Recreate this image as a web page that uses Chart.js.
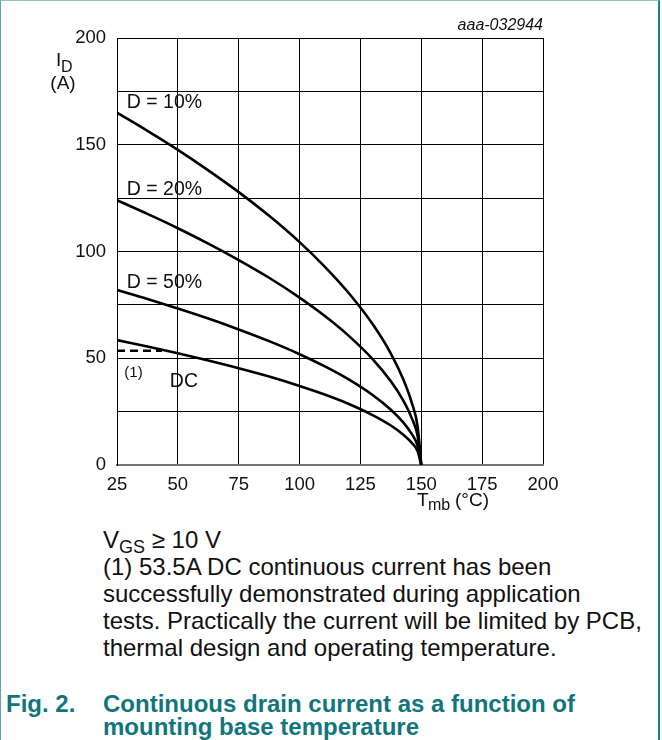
<!DOCTYPE html>
<html lang="en">
  <head>
    <meta charset="UTF-8" />
    <title>Continuous drain current vs mounting base temperature</title>
    <style>
      html, body {
        margin: 0;
        padding: 0;
        background: #fff;
        font-family: 'Liberation Sans', Arial, sans-serif;
      }
      .frame {
        position: absolute;
        left: 0;
        top: 0;
        width: 657px;
        height: 800px;
        border-left: 1px solid #5aa7ab;
        border-top: 1px solid #8cc3c6;
        border-right: 2px solid #1f7f84;
      }
      #chart {
        position: absolute;
        left: 0;
        top: 0;
      }
      .notes {
        position: absolute;
        left: 103px;
        top: 526px;
        font-size: 24px;
        line-height: 27px;
        color: #111;
        white-space: nowrap;
      }
      .notes sub {
        font-size: 18px;
        vertical-align: -5px;
        line-height: 0;
      }
      .caption {
        position: absolute;
        top: 692px;
        left: 6px;
        width: 640px;
        font-size: 24px;
        line-height: 23px;
        font-weight: bold;
        color: #11767c;
        white-space: nowrap;
      }
      .caption .num {
        position: absolute;
        left: 0;
        top: 0;
      }
      .caption .txt {
        position: absolute;
        left: 97px;
        top: 0;
      }
    </style>
  </head>
  <body>
    <div class="frame"></div>
    <canvas id="chart" width="662" height="520"></canvas>
    <div class="notes">
      V<sub>GS</sub> ≥ 10 V<br />
      (1) 53.5A DC continuous current has been<br />
      successfully demonstrated during application<br />
      tests. Practically the current will be limited by PCB,<br />
      thermal design and operating temperature.
    </div>
    <div class="caption">
      <span class="num">Fig. 2.</span>
      <span class="txt">Continuous drain current as a function of<br />mounting base temperature</span>
    </div>

    <script src="https://cdn.jsdelivr.net/npm/chart.js"></script>

    <script>
      // temperature points (°C)
      const tmb = [25, 37.5, 50, 62.5, 75, 87.5, 100, 110, 120, 130, 137.5, 142.5, 146, 148.5, 150];
      const d10 = [165, 156.5, 147.6, 138, 127.8, 116.7, 104.4, 93.3, 80.8, 66, 52.2, 40.4, 29.5, 18, 0];
      const d20 = [124, 117.6, 110.9, 103.7, 96, 87.7, 78.4, 70.1, 60.7, 49.6, 39.2, 30.4, 22.2, 13.6, 0];
      const d50 = [82, 77.8, 73.3, 68.6, 63.5, 58, 51.9, 46.4, 40.2, 32.8, 25.9, 20.1, 14.7, 9, 0];
      const dc = [58.5, 55.5, 52.3, 48.9, 45.3, 41.4, 37, 33.1, 28.7, 23.4, 18.5, 14.3, 10.5, 6.4, 0];
      const limitT = [25, 43.5];
      const limitI = [53.5, 53.5];
      const xTicks = [25, 50, 75, 100, 125, 150, 175, 200];
      const yGrid = [0, 25, 50, 75, 100, 125, 150, 175, 200];
      const yTicks = [0, 50, 100, 150, 200];

      const curveLabels = [
        { text: 'D = 10%', t: 29, i: 169.5 },
        { text: 'D = 20%', t: 29, i: 129 },
        { text: 'D = 50%', t: 29, i: 85.5 },
        { text: 'DC', t: 52.5, i: 39 },
      ];

      const FONT = '"Liberation Sans", Arial, sans-serif';

      function pts(xs, ys) {
        return xs.map((x, k) => ({ x, y: ys[k] }));
      }

      function curve(data) {
        return {
          data,
          borderColor: '#000',
          borderWidth: 2.6,
          pointRadius: 0,
          fill: false,
          cubicInterpolationMode: 'monotone',
        };
      }

      const textPlugin = {
        id: 'texts',
        afterDatasetsDraw(chart) {
          const { ctx, scales } = chart;
          const x = scales.x;
          const y = scales.y;
          ctx.save();
          ctx.fillStyle = '#111';
          ctx.textBaseline = 'middle';
          ctx.font = '19.5px ' + FONT;
          curveLabels.forEach((l) => {
            ctx.textAlign = l.text === 'DC' ? 'center' : 'left';
            ctx.fillText(l.text, x.getPixelForValue(l.t), y.getPixelForValue(l.i));
          });
          ctx.font = '15px ' + FONT;
          ctx.textAlign = 'left';
          ctx.fillText('(1)', x.getPixelForValue(28), y.getPixelForValue(43));

          // axis titles
          ctx.font = '19px ' + FONT;
          ctx.fillText('I', 56, 61);
          ctx.font = '16px ' + FONT;
          ctx.fillText('D', 61, 68);
          ctx.font = '19px ' + FONT;
          ctx.textAlign = 'center';
          ctx.fillText('(A)', 63, 84);

          ctx.textAlign = 'left';
          ctx.textBaseline = 'alphabetic';
          ctx.fillText('T', 417, 506);
          ctx.font = '16px ' + FONT;
          ctx.fillText('mb', 428, 510);
          ctx.font = '19px ' + FONT;
          ctx.fillText('(°C)', 455, 506);

          ctx.textBaseline = 'middle';
          ctx.font = 'italic 16px ' + FONT;
          ctx.textAlign = 'right';
          ctx.fillText('aaa-032944', chart.chartArea.right, 26);
          ctx.restore();
        },
      };

      new Chart(document.getElementById('chart'), {
        type: 'line',
        data: {
          datasets: [
            curve(pts(tmb, d10)),
            curve(pts(tmb, d20)),
            curve(pts(tmb, d50)),
            curve(pts(tmb, dc)),
            {
              data: pts(limitT, limitI),
              borderColor: '#000',
              borderWidth: 2.6,
              borderDash: [8, 5],
              pointRadius: 0,
              fill: false,
            },
          ],
        },
        options: {
          responsive: false,
          animation: false,
          layout: { padding: { left: 0, right: 119, top: 38, bottom: 0 } },
          plugins: { legend: { display: false }, tooltip: { enabled: false } },
          scales: {
            x: {
              type: 'linear',
              min: 25,
              max: 200,
              afterBuildTicks: (s) => {
                s.ticks = xTicks.map((v) => ({ value: v }));
              },
              afterFit: (s) => {
                s.height = 55;
              },
              grid: { color: '#000', lineWidth: 1, drawTicks: false },
              border: { color: '#777', width: 2 },
              ticks: {
                color: '#111',
                padding: 9,
                maxRotation: 0,
                font: { size: 18.5, family: FONT },
              },
            },
            y: {
              min: 0,
              max: 200,
              afterBuildTicks: (s) => {
                s.ticks = yGrid.map((v) => ({ value: v }));
              },
              afterFit: (s) => {
                s.width = 117;
              },
              grid: { color: '#000', lineWidth: 1, drawTicks: false },
              border: { color: '#000', width: 1 },
              ticks: {
                color: '#111',
                padding: 11,
                callback: (v) => (yTicks.includes(v) ? String(v) : ''),
                font: { size: 18.5, family: FONT },
              },
            },
          },
        },
        plugins: [textPlugin],
      });
    </script>
  </body>
</html>
